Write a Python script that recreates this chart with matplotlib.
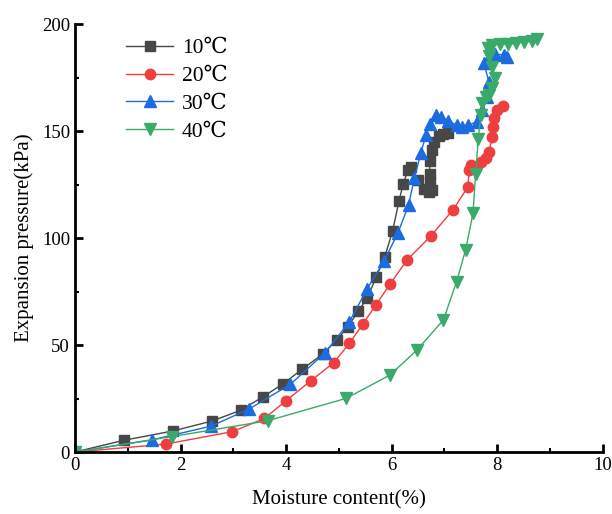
import matplotlib
matplotlib.use("Agg")
import matplotlib.pyplot as plt
from matplotlib.ticker import MultipleLocator

plt.rcParams['font.family'] = ['Liberation Serif', 'DejaVu Serif']
plt.rcParams['mathtext.fontset'] = 'stix'

x10 = [0, 0.93, 1.85, 2.60, 3.15, 3.56, 3.94, 4.30, 4.69, 4.96, 5.17, 5.37, 5.54, 5.71, 5.87,
       6.02, 6.14, 6.22, 6.31, 6.37, 6.50, 6.62, 6.70, 6.76, 6.72, 6.72, 6.72, 6.76, 6.81, 6.90, 6.98, 7.06]
y10 = [0, 5.5, 9.8, 14.5, 19.6, 25.8, 31.8, 38.6, 45.7, 52.3, 58.6, 65.9, 72.1, 81.9, 91.3,
       103.5, 117.5, 125.4, 131.8, 133.0, 127.0, 123.0, 121.5, 122.5, 126.0, 130.0, 136.0, 141.0, 145.0, 147.5, 148.6, 149.3]

x20 = [0, 1.72, 2.98, 3.59, 3.99, 4.47, 4.90, 5.20, 5.45, 5.70, 5.97, 6.29, 6.74, 7.16, 7.44,
       7.47, 7.50, 7.55, 7.62, 7.70, 7.78, 7.84, 7.91, 7.92, 7.94, 8.00, 8.10]
y20 = [0, 3.7, 9.5, 15.7, 23.8, 33.3, 41.7, 50.8, 59.7, 68.7, 78.5, 89.7, 100.9, 113.1, 123.7,
       132.0, 134.0, 133.0, 133.5, 135.5, 137.5, 140.3, 147.3, 151.7, 155.9, 159.8, 161.8]

x30 = [0, 1.45, 2.58, 3.30, 4.08, 4.74, 5.20, 5.53, 5.86, 6.12, 6.32, 6.43, 6.55, 6.65, 6.72,
       6.84, 6.93, 7.06, 7.23, 7.33, 7.45, 7.62, 7.72, 7.81, 7.84, 7.75, 7.84, 7.95, 8.13, 8.19]
y30 = [0, 5.6, 12.1, 20.1, 31.6, 46.4, 60.9, 76.0, 89.4, 102.5, 115.4, 127.9, 139.6, 148.1, 153.5,
       157.5, 156.7, 154.8, 152.8, 152.0, 152.8, 154.3, 160.0, 166.0, 173.0, 181.6, 184.7, 186.0, 185.5, 184.7]

x40 = [0, 1.83, 3.65, 5.14, 5.97, 6.48, 6.98, 7.23, 7.40, 7.54, 7.59, 7.64, 7.69, 7.72, 7.78,
       7.85, 7.90, 7.95, 7.90, 7.85, 7.82, 7.90, 8.05, 8.20, 8.35, 8.50, 8.65, 8.75]
y40 = [0, 7.2, 14.6, 25.1, 36.0, 47.7, 61.7, 79.6, 94.4, 111.5, 129.9, 146.1, 157.5, 163.0, 166.0,
       167.0, 170.0, 175.0, 180.0, 185.0, 189.0, 190.0, 190.5, 190.5, 191.0, 191.5, 192.0, 193.0]

labels = ['10℃', '20℃', '30℃', '40℃']

fig = plt.figure(figsize=(6.12, 5.14), dpi=100)
ax = fig.add_axes([0.1225, 0.1206, 0.8625, 0.8327])

ax.plot(x10, y10, color='#474747', marker='s', ms=6.5, lw=1.0, label=labels[0])
ax.plot(x20, y20, color='#EE3E3E', marker='o', ms=7.5, lw=1.0, label=labels[1])
ax.plot(x30, y30, color='#1A6CE0', marker='^', ms=8, lw=1.0, label=labels[2])
ax.plot(x40, y40, color='#3AAA6A', marker='v', ms=8, lw=1.0, label=labels[3])

ax.set_xlim(0, 10)
ax.set_ylim(0, 200)
ax.xaxis.set_major_locator(MultipleLocator(2))
ax.xaxis.set_minor_locator(MultipleLocator(1))
ax.yaxis.set_major_locator(MultipleLocator(50))
ax.yaxis.set_minor_locator(MultipleLocator(25))

for s in ['top', 'right']:
    ax.spines[s].set_visible(False)
for s in ['left', 'bottom']:
    ax.spines[s].set_linewidth(2)

ax.tick_params(which='major', direction='in', length=6, width=2, labelsize=13.5)
ax.tick_params(which='minor', direction='in', length=3, width=1.5)

ax.set_xlabel('Moisture content(%)', fontsize=15, labelpad=12)
ax.set_ylabel('Expansion pressure(kPa)', fontsize=15, labelpad=6)

leg = ax.legend(loc='upper left', bbox_to_anchor=(0.06, 1.012), frameon=False,
                fontsize=15.5, handlelength=2.2, handletextpad=0.4, labelspacing=0.36)

fig.savefig('out.png', dpi=100)
